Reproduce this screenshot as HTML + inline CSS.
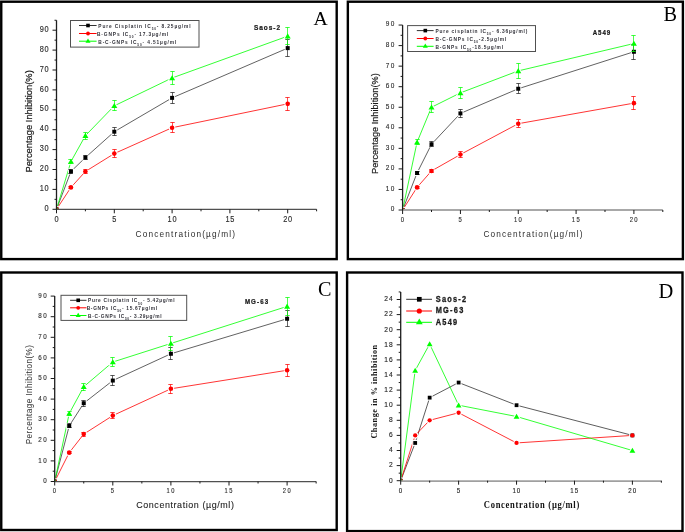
<!DOCTYPE html>
<html><head><meta charset="utf-8"><title>Figure</title><style>html,body{margin:0;padding:0;background:#fff;}svg{display:block;will-change:transform;}</style></head><body>
<svg width="685" height="532" viewBox="0 0 685 532">
<rect width="685" height="532" fill="#fff"/>
<rect x="1.25" y="1.7" width="335.45" height="257.40000000000003" fill="none" stroke="#000" stroke-width="2.4"/>
<rect x="347.85" y="1.7" width="335.04999999999995" height="257.40000000000003" fill="none" stroke="#000" stroke-width="2.4"/>
<rect x="1.25" y="272.5" width="335.45" height="257.5" fill="none" stroke="#000" stroke-width="2.4"/>
<rect x="347.1" y="272.5" width="335.4" height="258.6" fill="none" stroke="#000" stroke-width="2.4"/>
<clipPath id="ca"><rect x="56.50" y="9.30" width="280" height="200"/></clipPath>
<g clip-path="url(#ca)">
<polyline points="56.50,209.30 70.95,171.49 85.40,157.56 114.30,131.69 172.10,97.86 287.70,48.11" fill="none" stroke="#3a3a3a" stroke-width="0.8"/>
<polyline points="56.50,209.30 70.95,187.41 85.40,171.49 114.30,153.58 172.10,127.71 287.70,103.83" fill="none" stroke="#ff0000" stroke-width="0.8"/>
<polyline points="56.50,209.30 70.95,161.54 85.40,135.67 114.30,105.82 172.10,77.96 287.70,36.17" fill="none" stroke="#00ff00" stroke-width="0.8"/>
<rect x="54.50" y="207.30" width="4" height="4" fill="#fff" stroke="#fff" stroke-width="2.0"/>
<rect x="68.95" y="169.49" width="4" height="4" fill="#fff" stroke="#fff" stroke-width="2.0"/>
<rect x="83.40" y="155.56" width="4" height="4" fill="#fff" stroke="#fff" stroke-width="2.0"/>
<rect x="112.30" y="129.69" width="4" height="4" fill="#fff" stroke="#fff" stroke-width="2.0"/>
<rect x="170.10" y="95.86" width="4" height="4" fill="#fff" stroke="#fff" stroke-width="2.0"/>
<rect x="285.70" y="46.11" width="4" height="4" fill="#fff" stroke="#fff" stroke-width="2.0"/>
<ellipse cx="56.50" cy="209.30" rx="2.30" ry="2.30" fill="#fff" stroke="#fff" stroke-width="2.0"/>
<ellipse cx="70.95" cy="187.41" rx="2.30" ry="2.30" fill="#fff" stroke="#fff" stroke-width="2.0"/>
<ellipse cx="85.40" cy="171.49" rx="2.30" ry="2.30" fill="#fff" stroke="#fff" stroke-width="2.0"/>
<ellipse cx="114.30" cy="153.58" rx="2.30" ry="2.30" fill="#fff" stroke="#fff" stroke-width="2.0"/>
<ellipse cx="172.10" cy="127.71" rx="2.30" ry="2.30" fill="#fff" stroke="#fff" stroke-width="2.0"/>
<ellipse cx="287.70" cy="103.83" rx="2.30" ry="2.30" fill="#fff" stroke="#fff" stroke-width="2.0"/>
<polygon points="56.50,206.50 53.50,211.59 59.50,211.59" fill="#fff" stroke="#fff" stroke-width="2.0"/>
<polygon points="70.95,158.74 67.95,163.84 73.95,163.84" fill="#fff" stroke="#fff" stroke-width="2.0"/>
<polygon points="85.40,132.87 82.40,137.97 88.40,137.97" fill="#fff" stroke="#fff" stroke-width="2.0"/>
<polygon points="114.30,103.02 111.30,108.12 117.30,108.12" fill="#fff" stroke="#fff" stroke-width="2.0"/>
<polygon points="172.10,75.16 169.10,80.26 175.10,80.26" fill="#fff" stroke="#fff" stroke-width="2.0"/>
<polygon points="287.70,33.37 284.70,38.47 290.70,38.47" fill="#fff" stroke="#fff" stroke-width="2.0"/>
<line x1="70.50" y1="173.50" x2="70.50" y2="169.50" stroke="#222" stroke-width="0.7" />
<line x1="68.30" y1="173.50" x2="72.70" y2="173.50" stroke="#222" stroke-width="0.75" />
<line x1="68.30" y1="169.50" x2="72.70" y2="169.50" stroke="#222" stroke-width="0.75" />
<line x1="85.50" y1="159.50" x2="85.50" y2="155.50" stroke="#222" stroke-width="0.7" />
<line x1="83.30" y1="159.50" x2="87.70" y2="159.50" stroke="#222" stroke-width="0.75" />
<line x1="83.30" y1="155.50" x2="87.70" y2="155.50" stroke="#222" stroke-width="0.75" />
<line x1="114.50" y1="135.50" x2="114.50" y2="127.50" stroke="#222" stroke-width="0.7" />
<line x1="112.30" y1="135.50" x2="116.70" y2="135.50" stroke="#222" stroke-width="0.75" />
<line x1="112.30" y1="127.50" x2="116.70" y2="127.50" stroke="#222" stroke-width="0.75" />
<line x1="172.50" y1="103.50" x2="172.50" y2="92.50" stroke="#222" stroke-width="0.7" />
<line x1="170.30" y1="103.50" x2="174.70" y2="103.50" stroke="#222" stroke-width="0.75" />
<line x1="170.30" y1="92.50" x2="174.70" y2="92.50" stroke="#222" stroke-width="0.75" />
<line x1="287.50" y1="56.50" x2="287.50" y2="39.50" stroke="#222" stroke-width="0.7" />
<line x1="285.30" y1="56.50" x2="289.70" y2="56.50" stroke="#222" stroke-width="0.75" />
<line x1="285.30" y1="39.50" x2="289.70" y2="39.50" stroke="#222" stroke-width="0.75" />
<rect x="54.50" y="207.30" width="4" height="4" fill="#000000"/>
<rect x="68.95" y="169.49" width="4" height="4" fill="#000000"/>
<rect x="83.40" y="155.56" width="4" height="4" fill="#000000"/>
<rect x="112.30" y="129.69" width="4" height="4" fill="#000000"/>
<rect x="170.10" y="95.86" width="4" height="4" fill="#000000"/>
<rect x="285.70" y="46.11" width="4" height="4" fill="#000000"/>
<line x1="70.50" y1="188.50" x2="70.50" y2="186.50" stroke="#ff0000" stroke-width="0.7" />
<line x1="68.30" y1="188.50" x2="72.70" y2="188.50" stroke="#ff0000" stroke-width="0.75" />
<line x1="68.30" y1="186.50" x2="72.70" y2="186.50" stroke="#ff0000" stroke-width="0.75" />
<line x1="85.50" y1="173.50" x2="85.50" y2="169.50" stroke="#ff0000" stroke-width="0.7" />
<line x1="83.30" y1="173.50" x2="87.70" y2="173.50" stroke="#ff0000" stroke-width="0.75" />
<line x1="83.30" y1="169.50" x2="87.70" y2="169.50" stroke="#ff0000" stroke-width="0.75" />
<line x1="114.50" y1="157.50" x2="114.50" y2="149.50" stroke="#ff0000" stroke-width="0.7" />
<line x1="112.30" y1="157.50" x2="116.70" y2="157.50" stroke="#ff0000" stroke-width="0.75" />
<line x1="112.30" y1="149.50" x2="116.70" y2="149.50" stroke="#ff0000" stroke-width="0.75" />
<line x1="172.50" y1="132.50" x2="172.50" y2="122.50" stroke="#ff0000" stroke-width="0.7" />
<line x1="170.30" y1="132.50" x2="174.70" y2="132.50" stroke="#ff0000" stroke-width="0.75" />
<line x1="170.30" y1="122.50" x2="174.70" y2="122.50" stroke="#ff0000" stroke-width="0.75" />
<line x1="287.50" y1="110.50" x2="287.50" y2="97.50" stroke="#ff0000" stroke-width="0.7" />
<line x1="285.30" y1="110.50" x2="289.70" y2="110.50" stroke="#ff0000" stroke-width="0.75" />
<line x1="285.30" y1="97.50" x2="289.70" y2="97.50" stroke="#ff0000" stroke-width="0.75" />
<ellipse cx="56.50" cy="209.30" rx="2.30" ry="2.30" fill="#ff0000"/>
<ellipse cx="70.95" cy="187.41" rx="2.30" ry="2.30" fill="#ff0000"/>
<ellipse cx="85.40" cy="171.49" rx="2.30" ry="2.30" fill="#ff0000"/>
<ellipse cx="114.30" cy="153.58" rx="2.30" ry="2.30" fill="#ff0000"/>
<ellipse cx="172.10" cy="127.71" rx="2.30" ry="2.30" fill="#ff0000"/>
<ellipse cx="287.70" cy="103.83" rx="2.30" ry="2.30" fill="#ff0000"/>
<line x1="70.50" y1="163.50" x2="70.50" y2="159.50" stroke="#00ff00" stroke-width="0.7" />
<line x1="68.30" y1="163.50" x2="72.70" y2="163.50" stroke="#00ff00" stroke-width="0.75" />
<line x1="68.30" y1="159.50" x2="72.70" y2="159.50" stroke="#00ff00" stroke-width="0.75" />
<line x1="85.50" y1="139.50" x2="85.50" y2="132.50" stroke="#00ff00" stroke-width="0.7" />
<line x1="83.30" y1="139.50" x2="87.70" y2="139.50" stroke="#00ff00" stroke-width="0.75" />
<line x1="83.30" y1="132.50" x2="87.70" y2="132.50" stroke="#00ff00" stroke-width="0.75" />
<line x1="114.50" y1="110.50" x2="114.50" y2="100.50" stroke="#00ff00" stroke-width="0.7" />
<line x1="112.30" y1="110.50" x2="116.70" y2="110.50" stroke="#00ff00" stroke-width="0.75" />
<line x1="112.30" y1="100.50" x2="116.70" y2="100.50" stroke="#00ff00" stroke-width="0.75" />
<line x1="172.50" y1="84.50" x2="172.50" y2="71.50" stroke="#00ff00" stroke-width="0.7" />
<line x1="170.30" y1="84.50" x2="174.70" y2="84.50" stroke="#00ff00" stroke-width="0.75" />
<line x1="170.30" y1="71.50" x2="174.70" y2="71.50" stroke="#00ff00" stroke-width="0.75" />
<line x1="287.50" y1="44.50" x2="287.50" y2="27.50" stroke="#00ff00" stroke-width="0.7" />
<line x1="285.30" y1="44.50" x2="289.70" y2="44.50" stroke="#00ff00" stroke-width="0.75" />
<line x1="285.30" y1="27.50" x2="289.70" y2="27.50" stroke="#00ff00" stroke-width="0.75" />
<polygon points="56.50,206.50 53.50,211.59 59.50,211.59" fill="#00ff00"/>
<polygon points="70.95,158.74 67.95,163.84 73.95,163.84" fill="#00ff00"/>
<polygon points="85.40,132.87 82.40,137.97 88.40,137.97" fill="#00ff00"/>
<polygon points="114.30,103.02 111.30,108.12 117.30,108.12" fill="#00ff00"/>
<polygon points="172.10,75.16 169.10,80.26 175.10,80.26" fill="#00ff00"/>
<polygon points="287.70,33.37 284.70,38.47 290.70,38.47" fill="#00ff00"/>
</g>
<line x1="56.50" y1="209.30" x2="316.60" y2="209.30" stroke="#505050" stroke-width="1.25" />
<line x1="56.50" y1="209.30" x2="56.50" y2="20.25" stroke="#1e1e1e" stroke-width="1.3" />
<line x1="52.50" y1="209.30" x2="56.50" y2="209.30" stroke="#1a1a1a" stroke-width="1.0" />
<text transform="translate(49.40,210.90) scale(0.9,1)" font-family="Liberation Sans" font-size="8.2" font-weight="normal" text-anchor="end" fill="#2e2e2e" letter-spacing="0.8" stroke="#2e2e2e" stroke-width="0.15" >0</text>
<line x1="54.50" y1="199.35" x2="56.50" y2="199.35" stroke="#1a1a1a" stroke-width="1.0" />
<line x1="52.50" y1="189.40" x2="56.50" y2="189.40" stroke="#1a1a1a" stroke-width="1.0" />
<text transform="translate(49.40,191.00) scale(0.9,1)" font-family="Liberation Sans" font-size="8.2" font-weight="normal" text-anchor="end" fill="#2e2e2e" letter-spacing="0.8" stroke="#2e2e2e" stroke-width="0.15" >10</text>
<line x1="54.50" y1="179.45" x2="56.50" y2="179.45" stroke="#1a1a1a" stroke-width="1.0" />
<line x1="52.50" y1="169.50" x2="56.50" y2="169.50" stroke="#1a1a1a" stroke-width="1.0" />
<text transform="translate(49.40,171.10) scale(0.9,1)" font-family="Liberation Sans" font-size="8.2" font-weight="normal" text-anchor="end" fill="#2e2e2e" letter-spacing="0.8" stroke="#2e2e2e" stroke-width="0.15" >20</text>
<line x1="54.50" y1="159.55" x2="56.50" y2="159.55" stroke="#1a1a1a" stroke-width="1.0" />
<line x1="52.50" y1="149.60" x2="56.50" y2="149.60" stroke="#1a1a1a" stroke-width="1.0" />
<text transform="translate(49.40,151.20) scale(0.9,1)" font-family="Liberation Sans" font-size="8.2" font-weight="normal" text-anchor="end" fill="#2e2e2e" letter-spacing="0.8" stroke="#2e2e2e" stroke-width="0.15" >30</text>
<line x1="54.50" y1="139.65" x2="56.50" y2="139.65" stroke="#1a1a1a" stroke-width="1.0" />
<line x1="52.50" y1="129.70" x2="56.50" y2="129.70" stroke="#1a1a1a" stroke-width="1.0" />
<text transform="translate(49.40,131.30) scale(0.9,1)" font-family="Liberation Sans" font-size="8.2" font-weight="normal" text-anchor="end" fill="#2e2e2e" letter-spacing="0.8" stroke="#2e2e2e" stroke-width="0.15" >40</text>
<line x1="54.50" y1="119.75" x2="56.50" y2="119.75" stroke="#1a1a1a" stroke-width="1.0" />
<line x1="52.50" y1="109.80" x2="56.50" y2="109.80" stroke="#1a1a1a" stroke-width="1.0" />
<text transform="translate(49.40,111.40) scale(0.9,1)" font-family="Liberation Sans" font-size="8.2" font-weight="normal" text-anchor="end" fill="#2e2e2e" letter-spacing="0.8" stroke="#2e2e2e" stroke-width="0.15" >50</text>
<line x1="54.50" y1="99.85" x2="56.50" y2="99.85" stroke="#1a1a1a" stroke-width="1.0" />
<line x1="52.50" y1="89.90" x2="56.50" y2="89.90" stroke="#1a1a1a" stroke-width="1.0" />
<text transform="translate(49.40,91.50) scale(0.9,1)" font-family="Liberation Sans" font-size="8.2" font-weight="normal" text-anchor="end" fill="#2e2e2e" letter-spacing="0.8" stroke="#2e2e2e" stroke-width="0.15" >60</text>
<line x1="54.50" y1="79.95" x2="56.50" y2="79.95" stroke="#1a1a1a" stroke-width="1.0" />
<line x1="52.50" y1="70.00" x2="56.50" y2="70.00" stroke="#1a1a1a" stroke-width="1.0" />
<text transform="translate(49.40,71.60) scale(0.9,1)" font-family="Liberation Sans" font-size="8.2" font-weight="normal" text-anchor="end" fill="#2e2e2e" letter-spacing="0.8" stroke="#2e2e2e" stroke-width="0.15" >70</text>
<line x1="54.50" y1="60.05" x2="56.50" y2="60.05" stroke="#1a1a1a" stroke-width="1.0" />
<line x1="52.50" y1="50.10" x2="56.50" y2="50.10" stroke="#1a1a1a" stroke-width="1.0" />
<text transform="translate(49.40,51.70) scale(0.9,1)" font-family="Liberation Sans" font-size="8.2" font-weight="normal" text-anchor="end" fill="#2e2e2e" letter-spacing="0.8" stroke="#2e2e2e" stroke-width="0.15" >80</text>
<line x1="54.50" y1="40.15" x2="56.50" y2="40.15" stroke="#1a1a1a" stroke-width="1.0" />
<line x1="52.50" y1="30.20" x2="56.50" y2="30.20" stroke="#1a1a1a" stroke-width="1.0" />
<text transform="translate(49.40,31.80) scale(0.9,1)" font-family="Liberation Sans" font-size="8.2" font-weight="normal" text-anchor="end" fill="#2e2e2e" letter-spacing="0.8" stroke="#2e2e2e" stroke-width="0.15" >90</text>
<line x1="54.50" y1="20.25" x2="56.50" y2="20.25" stroke="#1a1a1a" stroke-width="1.0" />
<line x1="56.50" y1="209.30" x2="56.50" y2="213.30" stroke="#1a1a1a" stroke-width="1.0" />
<text transform="translate(56.80,221.70) scale(0.9,1)" font-family="Liberation Sans" font-size="8.2" font-weight="normal" text-anchor="middle" fill="#2e2e2e" letter-spacing="0.8" stroke="#2e2e2e" stroke-width="0.15" >0</text>
<line x1="85.40" y1="209.30" x2="85.40" y2="211.30" stroke="#1a1a1a" stroke-width="1.0" />
<line x1="114.30" y1="209.30" x2="114.30" y2="213.30" stroke="#1a1a1a" stroke-width="1.0" />
<text transform="translate(114.60,221.70) scale(0.9,1)" font-family="Liberation Sans" font-size="8.2" font-weight="normal" text-anchor="middle" fill="#2e2e2e" letter-spacing="0.8" stroke="#2e2e2e" stroke-width="0.15" >5</text>
<line x1="143.20" y1="209.30" x2="143.20" y2="211.30" stroke="#1a1a1a" stroke-width="1.0" />
<line x1="172.10" y1="209.30" x2="172.10" y2="213.30" stroke="#1a1a1a" stroke-width="1.0" />
<text transform="translate(172.40,221.70) scale(0.9,1)" font-family="Liberation Sans" font-size="8.2" font-weight="normal" text-anchor="middle" fill="#2e2e2e" letter-spacing="0.8" stroke="#2e2e2e" stroke-width="0.15" >10</text>
<line x1="201.00" y1="209.30" x2="201.00" y2="211.30" stroke="#1a1a1a" stroke-width="1.0" />
<line x1="229.90" y1="209.30" x2="229.90" y2="213.30" stroke="#1a1a1a" stroke-width="1.0" />
<text transform="translate(230.20,221.70) scale(0.9,1)" font-family="Liberation Sans" font-size="8.2" font-weight="normal" text-anchor="middle" fill="#2e2e2e" letter-spacing="0.8" stroke="#2e2e2e" stroke-width="0.15" >15</text>
<line x1="258.80" y1="209.30" x2="258.80" y2="211.30" stroke="#1a1a1a" stroke-width="1.0" />
<line x1="287.70" y1="209.30" x2="287.70" y2="213.30" stroke="#1a1a1a" stroke-width="1.0" />
<text transform="translate(288.00,221.70) scale(0.9,1)" font-family="Liberation Sans" font-size="8.2" font-weight="normal" text-anchor="middle" fill="#2e2e2e" letter-spacing="0.8" stroke="#2e2e2e" stroke-width="0.15" >20</text>
<line x1="316.60" y1="209.30" x2="316.60" y2="211.30" stroke="#1a1a1a" stroke-width="1.0" />
<clipPath id="cb"><rect x="402.60" y="10.00" width="280" height="200"/></clipPath>
<g clip-path="url(#cb)">
<polyline points="402.60,210.00 417.06,173.01 431.51,144.24 460.43,113.41 518.25,88.75 633.90,51.76" fill="none" stroke="#3a3a3a" stroke-width="0.8"/>
<polyline points="402.60,210.00 417.06,187.40 431.51,170.95 460.43,154.51 518.25,123.69 633.90,103.14" fill="none" stroke="#ff0000" stroke-width="0.8"/>
<polyline points="402.60,210.00 417.06,142.19 431.51,107.25 460.43,92.86 518.25,70.88 633.90,43.54" fill="none" stroke="#00ff00" stroke-width="0.8"/>
<rect x="400.60" y="208.00" width="4" height="4" fill="#fff" stroke="#fff" stroke-width="2.0"/>
<rect x="415.06" y="171.01" width="4" height="4" fill="#fff" stroke="#fff" stroke-width="2.0"/>
<rect x="429.51" y="142.24" width="4" height="4" fill="#fff" stroke="#fff" stroke-width="2.0"/>
<rect x="458.43" y="111.41" width="4" height="4" fill="#fff" stroke="#fff" stroke-width="2.0"/>
<rect x="516.25" y="86.75" width="4" height="4" fill="#fff" stroke="#fff" stroke-width="2.0"/>
<rect x="631.90" y="49.76" width="4" height="4" fill="#fff" stroke="#fff" stroke-width="2.0"/>
<ellipse cx="402.60" cy="210.00" rx="2.30" ry="2.30" fill="#fff" stroke="#fff" stroke-width="2.0"/>
<ellipse cx="417.06" cy="187.40" rx="2.30" ry="2.30" fill="#fff" stroke="#fff" stroke-width="2.0"/>
<ellipse cx="431.51" cy="170.95" rx="2.30" ry="2.30" fill="#fff" stroke="#fff" stroke-width="2.0"/>
<ellipse cx="460.43" cy="154.51" rx="2.30" ry="2.30" fill="#fff" stroke="#fff" stroke-width="2.0"/>
<ellipse cx="518.25" cy="123.69" rx="2.30" ry="2.30" fill="#fff" stroke="#fff" stroke-width="2.0"/>
<ellipse cx="633.90" cy="103.14" rx="2.30" ry="2.30" fill="#fff" stroke="#fff" stroke-width="2.0"/>
<polygon points="402.60,207.19 399.60,212.29 405.60,212.29" fill="#fff" stroke="#fff" stroke-width="2.0"/>
<polygon points="417.06,139.38 414.06,144.48 420.06,144.48" fill="#fff" stroke="#fff" stroke-width="2.0"/>
<polygon points="431.51,104.44 428.51,109.54 434.51,109.54" fill="#fff" stroke="#fff" stroke-width="2.0"/>
<polygon points="460.43,90.06 457.43,95.16 463.43,95.16" fill="#fff" stroke="#fff" stroke-width="2.0"/>
<polygon points="518.25,68.07 515.25,73.17 521.25,73.17" fill="#fff" stroke="#fff" stroke-width="2.0"/>
<polygon points="633.90,40.74 630.90,45.84 636.90,45.84" fill="#fff" stroke="#fff" stroke-width="2.0"/>
<line x1="417.50" y1="174.50" x2="417.50" y2="171.50" stroke="#222" stroke-width="0.7" />
<line x1="415.30" y1="174.50" x2="419.70" y2="174.50" stroke="#222" stroke-width="0.75" />
<line x1="415.30" y1="171.50" x2="419.70" y2="171.50" stroke="#222" stroke-width="0.75" />
<line x1="431.50" y1="146.50" x2="431.50" y2="141.50" stroke="#222" stroke-width="0.7" />
<line x1="429.30" y1="146.50" x2="433.70" y2="146.50" stroke="#222" stroke-width="0.75" />
<line x1="429.30" y1="141.50" x2="433.70" y2="141.50" stroke="#222" stroke-width="0.75" />
<line x1="460.50" y1="117.50" x2="460.50" y2="109.50" stroke="#222" stroke-width="0.7" />
<line x1="458.30" y1="117.50" x2="462.70" y2="117.50" stroke="#222" stroke-width="0.75" />
<line x1="458.30" y1="109.50" x2="462.70" y2="109.50" stroke="#222" stroke-width="0.75" />
<line x1="518.50" y1="93.50" x2="518.50" y2="83.50" stroke="#222" stroke-width="0.7" />
<line x1="516.30" y1="93.50" x2="520.70" y2="93.50" stroke="#222" stroke-width="0.75" />
<line x1="516.30" y1="83.50" x2="520.70" y2="83.50" stroke="#222" stroke-width="0.75" />
<line x1="633.50" y1="59.50" x2="633.50" y2="44.50" stroke="#222" stroke-width="0.7" />
<line x1="631.30" y1="59.50" x2="635.70" y2="59.50" stroke="#222" stroke-width="0.75" />
<line x1="631.30" y1="44.50" x2="635.70" y2="44.50" stroke="#222" stroke-width="0.75" />
<rect x="400.60" y="208.00" width="4" height="4" fill="#000000"/>
<rect x="415.06" y="171.01" width="4" height="4" fill="#000000"/>
<rect x="429.51" y="142.24" width="4" height="4" fill="#000000"/>
<rect x="458.43" y="111.41" width="4" height="4" fill="#000000"/>
<rect x="516.25" y="86.75" width="4" height="4" fill="#000000"/>
<rect x="631.90" y="49.76" width="4" height="4" fill="#000000"/>
<line x1="417.50" y1="188.50" x2="417.50" y2="186.50" stroke="#ff0000" stroke-width="0.7" />
<line x1="415.30" y1="188.50" x2="419.70" y2="188.50" stroke="#ff0000" stroke-width="0.75" />
<line x1="415.30" y1="186.50" x2="419.70" y2="186.50" stroke="#ff0000" stroke-width="0.75" />
<line x1="431.50" y1="172.50" x2="431.50" y2="169.50" stroke="#ff0000" stroke-width="0.7" />
<line x1="429.30" y1="172.50" x2="433.70" y2="172.50" stroke="#ff0000" stroke-width="0.75" />
<line x1="429.30" y1="169.50" x2="433.70" y2="169.50" stroke="#ff0000" stroke-width="0.75" />
<line x1="460.50" y1="157.50" x2="460.50" y2="151.50" stroke="#ff0000" stroke-width="0.7" />
<line x1="458.30" y1="157.50" x2="462.70" y2="157.50" stroke="#ff0000" stroke-width="0.75" />
<line x1="458.30" y1="151.50" x2="462.70" y2="151.50" stroke="#ff0000" stroke-width="0.75" />
<line x1="518.50" y1="127.50" x2="518.50" y2="119.50" stroke="#ff0000" stroke-width="0.7" />
<line x1="516.30" y1="127.50" x2="520.70" y2="127.50" stroke="#ff0000" stroke-width="0.75" />
<line x1="516.30" y1="119.50" x2="520.70" y2="119.50" stroke="#ff0000" stroke-width="0.75" />
<line x1="633.50" y1="109.50" x2="633.50" y2="96.50" stroke="#ff0000" stroke-width="0.7" />
<line x1="631.30" y1="109.50" x2="635.70" y2="109.50" stroke="#ff0000" stroke-width="0.75" />
<line x1="631.30" y1="96.50" x2="635.70" y2="96.50" stroke="#ff0000" stroke-width="0.75" />
<ellipse cx="402.60" cy="210.00" rx="2.30" ry="2.30" fill="#ff0000"/>
<ellipse cx="417.06" cy="187.40" rx="2.30" ry="2.30" fill="#ff0000"/>
<ellipse cx="431.51" cy="170.95" rx="2.30" ry="2.30" fill="#ff0000"/>
<ellipse cx="460.43" cy="154.51" rx="2.30" ry="2.30" fill="#ff0000"/>
<ellipse cx="518.25" cy="123.69" rx="2.30" ry="2.30" fill="#ff0000"/>
<ellipse cx="633.90" cy="103.14" rx="2.30" ry="2.30" fill="#ff0000"/>
<line x1="417.50" y1="144.50" x2="417.50" y2="139.50" stroke="#00ff00" stroke-width="0.7" />
<line x1="415.30" y1="144.50" x2="419.70" y2="144.50" stroke="#00ff00" stroke-width="0.75" />
<line x1="415.30" y1="139.50" x2="419.70" y2="139.50" stroke="#00ff00" stroke-width="0.75" />
<line x1="431.50" y1="112.50" x2="431.50" y2="101.50" stroke="#00ff00" stroke-width="0.7" />
<line x1="429.30" y1="112.50" x2="433.70" y2="112.50" stroke="#00ff00" stroke-width="0.75" />
<line x1="429.30" y1="101.50" x2="433.70" y2="101.50" stroke="#00ff00" stroke-width="0.75" />
<line x1="460.50" y1="98.50" x2="460.50" y2="87.50" stroke="#00ff00" stroke-width="0.7" />
<line x1="458.30" y1="98.50" x2="462.70" y2="98.50" stroke="#00ff00" stroke-width="0.75" />
<line x1="458.30" y1="87.50" x2="462.70" y2="87.50" stroke="#00ff00" stroke-width="0.75" />
<line x1="518.50" y1="78.50" x2="518.50" y2="63.50" stroke="#00ff00" stroke-width="0.7" />
<line x1="516.30" y1="78.50" x2="520.70" y2="78.50" stroke="#00ff00" stroke-width="0.75" />
<line x1="516.30" y1="63.50" x2="520.70" y2="63.50" stroke="#00ff00" stroke-width="0.75" />
<line x1="633.50" y1="51.50" x2="633.50" y2="35.50" stroke="#00ff00" stroke-width="0.7" />
<line x1="631.30" y1="51.50" x2="635.70" y2="51.50" stroke="#00ff00" stroke-width="0.75" />
<line x1="631.30" y1="35.50" x2="635.70" y2="35.50" stroke="#00ff00" stroke-width="0.75" />
<polygon points="402.60,207.19 399.60,212.29 405.60,212.29" fill="#00ff00"/>
<polygon points="417.06,139.38 414.06,144.48 420.06,144.48" fill="#00ff00"/>
<polygon points="431.51,104.44 428.51,109.54 434.51,109.54" fill="#00ff00"/>
<polygon points="460.43,90.06 457.43,95.16 463.43,95.16" fill="#00ff00"/>
<polygon points="518.25,68.07 515.25,73.17 521.25,73.17" fill="#00ff00"/>
<polygon points="633.90,40.74 630.90,45.84 636.90,45.84" fill="#00ff00"/>
</g>
<line x1="402.60" y1="210.00" x2="662.81" y2="210.00" stroke="#a8a8a8" stroke-width="2.0" />
<line x1="402.60" y1="210.00" x2="402.60" y2="25.05" stroke="#1e1e1e" stroke-width="1.3" />
<line x1="398.60" y1="210.00" x2="402.60" y2="210.00" stroke="#1a1a1a" stroke-width="1.0" />
<text transform="translate(395.50,211.40) scale(0.82,1)" font-family="Liberation Sans" font-size="7.9" font-weight="normal" text-anchor="end" fill="#2e2e2e" letter-spacing="1.5" stroke="#2e2e2e" stroke-width="0.15" >0</text>
<line x1="400.60" y1="199.72" x2="402.60" y2="199.72" stroke="#1a1a1a" stroke-width="1.0" />
<line x1="398.60" y1="189.45" x2="402.60" y2="189.45" stroke="#1a1a1a" stroke-width="1.0" />
<text transform="translate(395.50,190.85) scale(0.82,1)" font-family="Liberation Sans" font-size="7.9" font-weight="normal" text-anchor="end" fill="#2e2e2e" letter-spacing="1.5" stroke="#2e2e2e" stroke-width="0.15" >10</text>
<line x1="400.60" y1="179.18" x2="402.60" y2="179.18" stroke="#1a1a1a" stroke-width="1.0" />
<line x1="398.60" y1="168.90" x2="402.60" y2="168.90" stroke="#1a1a1a" stroke-width="1.0" />
<text transform="translate(395.50,170.30) scale(0.82,1)" font-family="Liberation Sans" font-size="7.9" font-weight="normal" text-anchor="end" fill="#2e2e2e" letter-spacing="1.5" stroke="#2e2e2e" stroke-width="0.15" >20</text>
<line x1="400.60" y1="158.62" x2="402.60" y2="158.62" stroke="#1a1a1a" stroke-width="1.0" />
<line x1="398.60" y1="148.35" x2="402.60" y2="148.35" stroke="#1a1a1a" stroke-width="1.0" />
<text transform="translate(395.50,149.75) scale(0.82,1)" font-family="Liberation Sans" font-size="7.9" font-weight="normal" text-anchor="end" fill="#2e2e2e" letter-spacing="1.5" stroke="#2e2e2e" stroke-width="0.15" >30</text>
<line x1="400.60" y1="138.07" x2="402.60" y2="138.07" stroke="#1a1a1a" stroke-width="1.0" />
<line x1="398.60" y1="127.80" x2="402.60" y2="127.80" stroke="#1a1a1a" stroke-width="1.0" />
<text transform="translate(395.50,129.20) scale(0.82,1)" font-family="Liberation Sans" font-size="7.9" font-weight="normal" text-anchor="end" fill="#2e2e2e" letter-spacing="1.5" stroke="#2e2e2e" stroke-width="0.15" >40</text>
<line x1="400.60" y1="117.52" x2="402.60" y2="117.52" stroke="#1a1a1a" stroke-width="1.0" />
<line x1="398.60" y1="107.25" x2="402.60" y2="107.25" stroke="#1a1a1a" stroke-width="1.0" />
<text transform="translate(395.50,108.65) scale(0.82,1)" font-family="Liberation Sans" font-size="7.9" font-weight="normal" text-anchor="end" fill="#2e2e2e" letter-spacing="1.5" stroke="#2e2e2e" stroke-width="0.15" >50</text>
<line x1="400.60" y1="96.97" x2="402.60" y2="96.97" stroke="#1a1a1a" stroke-width="1.0" />
<line x1="398.60" y1="86.70" x2="402.60" y2="86.70" stroke="#1a1a1a" stroke-width="1.0" />
<text transform="translate(395.50,88.10) scale(0.82,1)" font-family="Liberation Sans" font-size="7.9" font-weight="normal" text-anchor="end" fill="#2e2e2e" letter-spacing="1.5" stroke="#2e2e2e" stroke-width="0.15" >60</text>
<line x1="400.60" y1="76.42" x2="402.60" y2="76.42" stroke="#1a1a1a" stroke-width="1.0" />
<line x1="398.60" y1="66.15" x2="402.60" y2="66.15" stroke="#1a1a1a" stroke-width="1.0" />
<text transform="translate(395.50,67.55) scale(0.82,1)" font-family="Liberation Sans" font-size="7.9" font-weight="normal" text-anchor="end" fill="#2e2e2e" letter-spacing="1.5" stroke="#2e2e2e" stroke-width="0.15" >70</text>
<line x1="400.60" y1="55.88" x2="402.60" y2="55.88" stroke="#1a1a1a" stroke-width="1.0" />
<line x1="398.60" y1="45.60" x2="402.60" y2="45.60" stroke="#1a1a1a" stroke-width="1.0" />
<text transform="translate(395.50,47.00) scale(0.82,1)" font-family="Liberation Sans" font-size="7.9" font-weight="normal" text-anchor="end" fill="#2e2e2e" letter-spacing="1.5" stroke="#2e2e2e" stroke-width="0.15" >80</text>
<line x1="400.60" y1="35.32" x2="402.60" y2="35.32" stroke="#1a1a1a" stroke-width="1.0" />
<line x1="398.60" y1="25.05" x2="402.60" y2="25.05" stroke="#1a1a1a" stroke-width="1.0" />
<text transform="translate(395.50,26.45) scale(0.82,1)" font-family="Liberation Sans" font-size="7.9" font-weight="normal" text-anchor="end" fill="#2e2e2e" letter-spacing="1.5" stroke="#2e2e2e" stroke-width="0.15" >90</text>
<line x1="402.60" y1="210.00" x2="402.60" y2="214.00" stroke="#1a1a1a" stroke-width="1.0" />
<text transform="translate(402.90,221.80) scale(0.82,1)" font-family="Liberation Sans" font-size="7.2" font-weight="normal" text-anchor="middle" fill="#2e2e2e" letter-spacing="1.5" stroke="#2e2e2e" stroke-width="0.15" >0</text>
<line x1="431.51" y1="210.00" x2="431.51" y2="212.00" stroke="#1a1a1a" stroke-width="1.0" />
<line x1="460.43" y1="210.00" x2="460.43" y2="214.00" stroke="#1a1a1a" stroke-width="1.0" />
<text transform="translate(460.73,221.80) scale(0.82,1)" font-family="Liberation Sans" font-size="7.2" font-weight="normal" text-anchor="middle" fill="#2e2e2e" letter-spacing="1.5" stroke="#2e2e2e" stroke-width="0.15" >5</text>
<line x1="489.34" y1="210.00" x2="489.34" y2="212.00" stroke="#1a1a1a" stroke-width="1.0" />
<line x1="518.25" y1="210.00" x2="518.25" y2="214.00" stroke="#1a1a1a" stroke-width="1.0" />
<text transform="translate(518.55,221.80) scale(0.82,1)" font-family="Liberation Sans" font-size="7.2" font-weight="normal" text-anchor="middle" fill="#2e2e2e" letter-spacing="1.5" stroke="#2e2e2e" stroke-width="0.15" >10</text>
<line x1="547.16" y1="210.00" x2="547.16" y2="212.00" stroke="#1a1a1a" stroke-width="1.0" />
<line x1="576.08" y1="210.00" x2="576.08" y2="214.00" stroke="#1a1a1a" stroke-width="1.0" />
<text transform="translate(576.38,221.80) scale(0.82,1)" font-family="Liberation Sans" font-size="7.2" font-weight="normal" text-anchor="middle" fill="#2e2e2e" letter-spacing="1.5" stroke="#2e2e2e" stroke-width="0.15" >15</text>
<line x1="604.99" y1="210.00" x2="604.99" y2="212.00" stroke="#1a1a1a" stroke-width="1.0" />
<line x1="633.90" y1="210.00" x2="633.90" y2="214.00" stroke="#1a1a1a" stroke-width="1.0" />
<text transform="translate(634.20,221.80) scale(0.82,1)" font-family="Liberation Sans" font-size="7.2" font-weight="normal" text-anchor="middle" fill="#2e2e2e" letter-spacing="1.5" stroke="#2e2e2e" stroke-width="0.15" >20</text>
<line x1="662.81" y1="210.00" x2="662.81" y2="212.00" stroke="#1a1a1a" stroke-width="1.0" />
<clipPath id="cc"><rect x="54.70" y="281.50" width="280" height="200"/></clipPath>
<g clip-path="url(#cc)">
<polyline points="54.70,481.50 69.22,425.88 83.75,403.22 112.80,380.56 170.90,353.78 287.10,318.76" fill="none" stroke="#3a3a3a" stroke-width="0.8"/>
<polyline points="54.70,481.50 69.22,452.66 83.75,434.12 112.80,415.58 170.90,388.80 287.10,370.26" fill="none" stroke="#ff0000" stroke-width="0.8"/>
<polyline points="54.70,481.50 69.22,413.52 83.75,386.74 112.80,362.02 170.90,343.48 287.10,306.40" fill="none" stroke="#00ff00" stroke-width="0.8"/>
<rect x="52.70" y="479.50" width="4" height="4" fill="#fff" stroke="#fff" stroke-width="2.0"/>
<rect x="67.22" y="423.88" width="4" height="4" fill="#fff" stroke="#fff" stroke-width="2.0"/>
<rect x="81.75" y="401.22" width="4" height="4" fill="#fff" stroke="#fff" stroke-width="2.0"/>
<rect x="110.80" y="378.56" width="4" height="4" fill="#fff" stroke="#fff" stroke-width="2.0"/>
<rect x="168.90" y="351.78" width="4" height="4" fill="#fff" stroke="#fff" stroke-width="2.0"/>
<rect x="285.10" y="316.76" width="4" height="4" fill="#fff" stroke="#fff" stroke-width="2.0"/>
<ellipse cx="54.70" cy="481.50" rx="2.30" ry="2.30" fill="#fff" stroke="#fff" stroke-width="2.0"/>
<ellipse cx="69.22" cy="452.66" rx="2.30" ry="2.30" fill="#fff" stroke="#fff" stroke-width="2.0"/>
<ellipse cx="83.75" cy="434.12" rx="2.30" ry="2.30" fill="#fff" stroke="#fff" stroke-width="2.0"/>
<ellipse cx="112.80" cy="415.58" rx="2.30" ry="2.30" fill="#fff" stroke="#fff" stroke-width="2.0"/>
<ellipse cx="170.90" cy="388.80" rx="2.30" ry="2.30" fill="#fff" stroke="#fff" stroke-width="2.0"/>
<ellipse cx="287.10" cy="370.26" rx="2.30" ry="2.30" fill="#fff" stroke="#fff" stroke-width="2.0"/>
<polygon points="54.70,478.69 51.70,483.80 57.70,483.80" fill="#fff" stroke="#fff" stroke-width="2.0"/>
<polygon points="69.22,410.71 66.22,415.81 72.22,415.81" fill="#fff" stroke="#fff" stroke-width="2.0"/>
<polygon points="83.75,383.94 80.75,389.04 86.75,389.04" fill="#fff" stroke="#fff" stroke-width="2.0"/>
<polygon points="112.80,359.21 109.80,364.31 115.80,364.31" fill="#fff" stroke="#fff" stroke-width="2.0"/>
<polygon points="170.90,340.68 167.90,345.78 173.90,345.78" fill="#fff" stroke="#fff" stroke-width="2.0"/>
<polygon points="287.10,303.59 284.10,308.69 290.10,308.69" fill="#fff" stroke="#fff" stroke-width="2.0"/>
<line x1="69.50" y1="427.50" x2="69.50" y2="423.50" stroke="#222" stroke-width="0.7" />
<line x1="67.30" y1="427.50" x2="71.70" y2="427.50" stroke="#222" stroke-width="0.75" />
<line x1="67.30" y1="423.50" x2="71.70" y2="423.50" stroke="#222" stroke-width="0.75" />
<line x1="83.50" y1="406.50" x2="83.50" y2="400.50" stroke="#222" stroke-width="0.7" />
<line x1="81.30" y1="406.50" x2="85.70" y2="406.50" stroke="#222" stroke-width="0.75" />
<line x1="81.30" y1="400.50" x2="85.70" y2="400.50" stroke="#222" stroke-width="0.75" />
<line x1="112.50" y1="385.50" x2="112.50" y2="375.50" stroke="#222" stroke-width="0.7" />
<line x1="110.30" y1="385.50" x2="114.70" y2="385.50" stroke="#222" stroke-width="0.75" />
<line x1="110.30" y1="375.50" x2="114.70" y2="375.50" stroke="#222" stroke-width="0.75" />
<line x1="170.50" y1="359.50" x2="170.50" y2="347.50" stroke="#222" stroke-width="0.7" />
<line x1="168.30" y1="359.50" x2="172.70" y2="359.50" stroke="#222" stroke-width="0.75" />
<line x1="168.30" y1="347.50" x2="172.70" y2="347.50" stroke="#222" stroke-width="0.75" />
<line x1="287.50" y1="326.50" x2="287.50" y2="310.50" stroke="#222" stroke-width="0.7" />
<line x1="285.30" y1="326.50" x2="289.70" y2="326.50" stroke="#222" stroke-width="0.75" />
<line x1="285.30" y1="310.50" x2="289.70" y2="310.50" stroke="#222" stroke-width="0.75" />
<rect x="52.70" y="479.50" width="4" height="4" fill="#000000"/>
<rect x="67.22" y="423.88" width="4" height="4" fill="#000000"/>
<rect x="81.75" y="401.22" width="4" height="4" fill="#000000"/>
<rect x="110.80" y="378.56" width="4" height="4" fill="#000000"/>
<rect x="168.90" y="351.78" width="4" height="4" fill="#000000"/>
<rect x="285.10" y="316.76" width="4" height="4" fill="#000000"/>
<line x1="69.50" y1="453.50" x2="69.50" y2="451.50" stroke="#ff0000" stroke-width="0.7" />
<line x1="67.30" y1="453.50" x2="71.70" y2="453.50" stroke="#ff0000" stroke-width="0.75" />
<line x1="67.30" y1="451.50" x2="71.70" y2="451.50" stroke="#ff0000" stroke-width="0.75" />
<line x1="83.50" y1="436.50" x2="83.50" y2="432.50" stroke="#ff0000" stroke-width="0.7" />
<line x1="81.30" y1="436.50" x2="85.70" y2="436.50" stroke="#ff0000" stroke-width="0.75" />
<line x1="81.30" y1="432.50" x2="85.70" y2="432.50" stroke="#ff0000" stroke-width="0.75" />
<line x1="112.50" y1="418.50" x2="112.50" y2="412.50" stroke="#ff0000" stroke-width="0.7" />
<line x1="110.30" y1="418.50" x2="114.70" y2="418.50" stroke="#ff0000" stroke-width="0.75" />
<line x1="110.30" y1="412.50" x2="114.70" y2="412.50" stroke="#ff0000" stroke-width="0.75" />
<line x1="170.50" y1="393.50" x2="170.50" y2="384.50" stroke="#ff0000" stroke-width="0.7" />
<line x1="168.30" y1="393.50" x2="172.70" y2="393.50" stroke="#ff0000" stroke-width="0.75" />
<line x1="168.30" y1="384.50" x2="172.70" y2="384.50" stroke="#ff0000" stroke-width="0.75" />
<line x1="287.50" y1="376.50" x2="287.50" y2="364.50" stroke="#ff0000" stroke-width="0.7" />
<line x1="285.30" y1="376.50" x2="289.70" y2="376.50" stroke="#ff0000" stroke-width="0.75" />
<line x1="285.30" y1="364.50" x2="289.70" y2="364.50" stroke="#ff0000" stroke-width="0.75" />
<ellipse cx="54.70" cy="481.50" rx="2.30" ry="2.30" fill="#ff0000"/>
<ellipse cx="69.22" cy="452.66" rx="2.30" ry="2.30" fill="#ff0000"/>
<ellipse cx="83.75" cy="434.12" rx="2.30" ry="2.30" fill="#ff0000"/>
<ellipse cx="112.80" cy="415.58" rx="2.30" ry="2.30" fill="#ff0000"/>
<ellipse cx="170.90" cy="388.80" rx="2.30" ry="2.30" fill="#ff0000"/>
<ellipse cx="287.10" cy="370.26" rx="2.30" ry="2.30" fill="#ff0000"/>
<line x1="69.50" y1="415.50" x2="69.50" y2="411.50" stroke="#00ff00" stroke-width="0.7" />
<line x1="67.30" y1="415.50" x2="71.70" y2="415.50" stroke="#00ff00" stroke-width="0.75" />
<line x1="67.30" y1="411.50" x2="71.70" y2="411.50" stroke="#00ff00" stroke-width="0.75" />
<line x1="83.50" y1="390.50" x2="83.50" y2="383.50" stroke="#00ff00" stroke-width="0.7" />
<line x1="81.30" y1="390.50" x2="85.70" y2="390.50" stroke="#00ff00" stroke-width="0.75" />
<line x1="81.30" y1="383.50" x2="85.70" y2="383.50" stroke="#00ff00" stroke-width="0.75" />
<line x1="112.50" y1="366.50" x2="112.50" y2="357.50" stroke="#00ff00" stroke-width="0.7" />
<line x1="110.30" y1="366.50" x2="114.70" y2="366.50" stroke="#00ff00" stroke-width="0.75" />
<line x1="110.30" y1="357.50" x2="114.70" y2="357.50" stroke="#00ff00" stroke-width="0.75" />
<line x1="170.50" y1="350.50" x2="170.50" y2="336.50" stroke="#00ff00" stroke-width="0.7" />
<line x1="168.30" y1="350.50" x2="172.70" y2="350.50" stroke="#00ff00" stroke-width="0.75" />
<line x1="168.30" y1="336.50" x2="172.70" y2="336.50" stroke="#00ff00" stroke-width="0.75" />
<line x1="287.50" y1="315.50" x2="287.50" y2="297.50" stroke="#00ff00" stroke-width="0.7" />
<line x1="285.30" y1="315.50" x2="289.70" y2="315.50" stroke="#00ff00" stroke-width="0.75" />
<line x1="285.30" y1="297.50" x2="289.70" y2="297.50" stroke="#00ff00" stroke-width="0.75" />
<polygon points="54.70,478.69 51.70,483.80 57.70,483.80" fill="#00ff00"/>
<polygon points="69.22,410.71 66.22,415.81 72.22,415.81" fill="#00ff00"/>
<polygon points="83.75,383.94 80.75,389.04 86.75,389.04" fill="#00ff00"/>
<polygon points="112.80,359.21 109.80,364.31 115.80,364.31" fill="#00ff00"/>
<polygon points="170.90,340.68 167.90,345.78 173.90,345.78" fill="#00ff00"/>
<polygon points="287.10,303.59 284.10,308.69 290.10,308.69" fill="#00ff00"/>
</g>
<line x1="54.70" y1="481.50" x2="316.15" y2="481.50" stroke="#505050" stroke-width="1.25" />
<line x1="54.70" y1="481.50" x2="54.70" y2="296.10" stroke="#1e1e1e" stroke-width="1.3" />
<line x1="50.70" y1="481.50" x2="54.70" y2="481.50" stroke="#1a1a1a" stroke-width="1.0" />
<text transform="translate(48.30,483.10) scale(0.8,1)" font-family="Liberation Sans" font-size="7.8" font-weight="normal" text-anchor="end" fill="#2e2e2e" letter-spacing="1.9" stroke="#2e2e2e" stroke-width="0.15" >0</text>
<line x1="52.70" y1="471.20" x2="54.70" y2="471.20" stroke="#1a1a1a" stroke-width="1.0" />
<line x1="50.70" y1="460.90" x2="54.70" y2="460.90" stroke="#1a1a1a" stroke-width="1.0" />
<text transform="translate(48.30,462.50) scale(0.8,1)" font-family="Liberation Sans" font-size="7.8" font-weight="normal" text-anchor="end" fill="#2e2e2e" letter-spacing="1.9" stroke="#2e2e2e" stroke-width="0.15" >10</text>
<line x1="52.70" y1="450.60" x2="54.70" y2="450.60" stroke="#1a1a1a" stroke-width="1.0" />
<line x1="50.70" y1="440.30" x2="54.70" y2="440.30" stroke="#1a1a1a" stroke-width="1.0" />
<text transform="translate(48.30,441.90) scale(0.8,1)" font-family="Liberation Sans" font-size="7.8" font-weight="normal" text-anchor="end" fill="#2e2e2e" letter-spacing="1.9" stroke="#2e2e2e" stroke-width="0.15" >20</text>
<line x1="52.70" y1="430.00" x2="54.70" y2="430.00" stroke="#1a1a1a" stroke-width="1.0" />
<line x1="50.70" y1="419.70" x2="54.70" y2="419.70" stroke="#1a1a1a" stroke-width="1.0" />
<text transform="translate(48.30,421.30) scale(0.8,1)" font-family="Liberation Sans" font-size="7.8" font-weight="normal" text-anchor="end" fill="#2e2e2e" letter-spacing="1.9" stroke="#2e2e2e" stroke-width="0.15" >30</text>
<line x1="52.70" y1="409.40" x2="54.70" y2="409.40" stroke="#1a1a1a" stroke-width="1.0" />
<line x1="50.70" y1="399.10" x2="54.70" y2="399.10" stroke="#1a1a1a" stroke-width="1.0" />
<text transform="translate(48.30,400.70) scale(0.8,1)" font-family="Liberation Sans" font-size="7.8" font-weight="normal" text-anchor="end" fill="#2e2e2e" letter-spacing="1.9" stroke="#2e2e2e" stroke-width="0.15" >40</text>
<line x1="52.70" y1="388.80" x2="54.70" y2="388.80" stroke="#1a1a1a" stroke-width="1.0" />
<line x1="50.70" y1="378.50" x2="54.70" y2="378.50" stroke="#1a1a1a" stroke-width="1.0" />
<text transform="translate(48.30,380.10) scale(0.8,1)" font-family="Liberation Sans" font-size="7.8" font-weight="normal" text-anchor="end" fill="#2e2e2e" letter-spacing="1.9" stroke="#2e2e2e" stroke-width="0.15" >50</text>
<line x1="52.70" y1="368.20" x2="54.70" y2="368.20" stroke="#1a1a1a" stroke-width="1.0" />
<line x1="50.70" y1="357.90" x2="54.70" y2="357.90" stroke="#1a1a1a" stroke-width="1.0" />
<text transform="translate(48.30,359.50) scale(0.8,1)" font-family="Liberation Sans" font-size="7.8" font-weight="normal" text-anchor="end" fill="#2e2e2e" letter-spacing="1.9" stroke="#2e2e2e" stroke-width="0.15" >60</text>
<line x1="52.70" y1="347.60" x2="54.70" y2="347.60" stroke="#1a1a1a" stroke-width="1.0" />
<line x1="50.70" y1="337.30" x2="54.70" y2="337.30" stroke="#1a1a1a" stroke-width="1.0" />
<text transform="translate(48.30,338.90) scale(0.8,1)" font-family="Liberation Sans" font-size="7.8" font-weight="normal" text-anchor="end" fill="#2e2e2e" letter-spacing="1.9" stroke="#2e2e2e" stroke-width="0.15" >70</text>
<line x1="52.70" y1="327.00" x2="54.70" y2="327.00" stroke="#1a1a1a" stroke-width="1.0" />
<line x1="50.70" y1="316.70" x2="54.70" y2="316.70" stroke="#1a1a1a" stroke-width="1.0" />
<text transform="translate(48.30,318.30) scale(0.8,1)" font-family="Liberation Sans" font-size="7.8" font-weight="normal" text-anchor="end" fill="#2e2e2e" letter-spacing="1.9" stroke="#2e2e2e" stroke-width="0.15" >80</text>
<line x1="52.70" y1="306.40" x2="54.70" y2="306.40" stroke="#1a1a1a" stroke-width="1.0" />
<line x1="50.70" y1="296.10" x2="54.70" y2="296.10" stroke="#1a1a1a" stroke-width="1.0" />
<text transform="translate(48.30,297.70) scale(0.8,1)" font-family="Liberation Sans" font-size="7.8" font-weight="normal" text-anchor="end" fill="#2e2e2e" letter-spacing="1.9" stroke="#2e2e2e" stroke-width="0.15" >90</text>
<line x1="54.70" y1="481.50" x2="54.70" y2="485.50" stroke="#1a1a1a" stroke-width="1.0" />
<text transform="translate(55.00,493.20) scale(0.8,1)" font-family="Liberation Sans" font-size="7.2" font-weight="normal" text-anchor="middle" fill="#2e2e2e" letter-spacing="1.9" stroke="#2e2e2e" stroke-width="0.15" >0</text>
<line x1="83.75" y1="481.50" x2="83.75" y2="483.50" stroke="#1a1a1a" stroke-width="1.0" />
<line x1="112.80" y1="481.50" x2="112.80" y2="485.50" stroke="#1a1a1a" stroke-width="1.0" />
<text transform="translate(113.10,493.20) scale(0.8,1)" font-family="Liberation Sans" font-size="7.2" font-weight="normal" text-anchor="middle" fill="#2e2e2e" letter-spacing="1.9" stroke="#2e2e2e" stroke-width="0.15" >5</text>
<line x1="141.85" y1="481.50" x2="141.85" y2="483.50" stroke="#1a1a1a" stroke-width="1.0" />
<line x1="170.90" y1="481.50" x2="170.90" y2="485.50" stroke="#1a1a1a" stroke-width="1.0" />
<text transform="translate(171.20,493.20) scale(0.8,1)" font-family="Liberation Sans" font-size="7.2" font-weight="normal" text-anchor="middle" fill="#2e2e2e" letter-spacing="1.9" stroke="#2e2e2e" stroke-width="0.15" >10</text>
<line x1="199.95" y1="481.50" x2="199.95" y2="483.50" stroke="#1a1a1a" stroke-width="1.0" />
<line x1="229.00" y1="481.50" x2="229.00" y2="485.50" stroke="#1a1a1a" stroke-width="1.0" />
<text transform="translate(229.30,493.20) scale(0.8,1)" font-family="Liberation Sans" font-size="7.2" font-weight="normal" text-anchor="middle" fill="#2e2e2e" letter-spacing="1.9" stroke="#2e2e2e" stroke-width="0.15" >15</text>
<line x1="258.05" y1="481.50" x2="258.05" y2="483.50" stroke="#1a1a1a" stroke-width="1.0" />
<line x1="287.10" y1="481.50" x2="287.10" y2="485.50" stroke="#1a1a1a" stroke-width="1.0" />
<text transform="translate(287.40,493.20) scale(0.8,1)" font-family="Liberation Sans" font-size="7.2" font-weight="normal" text-anchor="middle" fill="#2e2e2e" letter-spacing="1.9" stroke="#2e2e2e" stroke-width="0.15" >20</text>
<line x1="316.15" y1="481.50" x2="316.15" y2="483.50" stroke="#1a1a1a" stroke-width="1.0" />
<clipPath id="cd"><rect x="400.70" y="280.70" width="280" height="200"/></clipPath>
<g clip-path="url(#cd)">
<polyline points="400.70,480.70 415.18,442.95 429.66,397.65 458.62,382.55 516.55,405.20 632.40,435.40" fill="none" stroke="#333" stroke-width="0.8"/>
<polyline points="400.70,480.70 415.18,435.40 429.66,420.30 458.62,412.75 516.55,442.95 632.40,435.40" fill="none" stroke="#ff0000" stroke-width="0.8"/>
<polyline points="400.70,480.70 415.18,370.47 429.66,344.04 458.62,405.20 516.55,416.52 632.40,450.50" fill="none" stroke="#00ff00" stroke-width="0.8"/>
<rect x="398.80" y="478.80" width="3.8" height="3.8" fill="#fff" stroke="#fff" stroke-width="2.0"/>
<rect x="413.28" y="441.05" width="3.8" height="3.8" fill="#fff" stroke="#fff" stroke-width="2.0"/>
<rect x="427.76" y="395.75" width="3.8" height="3.8" fill="#fff" stroke="#fff" stroke-width="2.0"/>
<rect x="456.73" y="380.65" width="3.8" height="3.8" fill="#fff" stroke="#fff" stroke-width="2.0"/>
<rect x="514.65" y="403.30" width="3.8" height="3.8" fill="#fff" stroke="#fff" stroke-width="2.0"/>
<rect x="630.50" y="433.50" width="3.8" height="3.8" fill="#fff" stroke="#fff" stroke-width="2.0"/>
<ellipse cx="400.70" cy="480.70" rx="2.15" ry="2.15" fill="#fff" stroke="#fff" stroke-width="2.0"/>
<ellipse cx="415.18" cy="435.40" rx="2.15" ry="2.15" fill="#fff" stroke="#fff" stroke-width="2.0"/>
<ellipse cx="429.66" cy="420.30" rx="2.15" ry="2.15" fill="#fff" stroke="#fff" stroke-width="2.0"/>
<ellipse cx="458.62" cy="412.75" rx="2.15" ry="2.15" fill="#fff" stroke="#fff" stroke-width="2.0"/>
<ellipse cx="516.55" cy="442.95" rx="2.15" ry="2.15" fill="#fff" stroke="#fff" stroke-width="2.0"/>
<ellipse cx="632.40" cy="435.40" rx="2.15" ry="2.15" fill="#fff" stroke="#fff" stroke-width="2.0"/>
<polygon points="400.70,477.99 397.80,482.92 403.60,482.92" fill="#fff" stroke="#fff" stroke-width="2.0"/>
<polygon points="415.18,367.76 412.28,372.69 418.08,372.69" fill="#fff" stroke="#fff" stroke-width="2.0"/>
<polygon points="429.66,341.33 426.76,346.26 432.56,346.26" fill="#fff" stroke="#fff" stroke-width="2.0"/>
<polygon points="458.62,402.49 455.73,407.42 461.52,407.42" fill="#fff" stroke="#fff" stroke-width="2.0"/>
<polygon points="516.55,413.81 513.65,418.74 519.45,418.74" fill="#fff" stroke="#fff" stroke-width="2.0"/>
<polygon points="632.40,447.79 629.50,452.72 635.30,452.72" fill="#fff" stroke="#fff" stroke-width="2.0"/>
<rect x="398.80" y="478.80" width="3.8" height="3.8" fill="#000000"/>
<rect x="413.28" y="441.05" width="3.8" height="3.8" fill="#000000"/>
<rect x="427.76" y="395.75" width="3.8" height="3.8" fill="#000000"/>
<rect x="456.73" y="380.65" width="3.8" height="3.8" fill="#000000"/>
<rect x="514.65" y="403.30" width="3.8" height="3.8" fill="#000000"/>
<rect x="630.50" y="433.50" width="3.8" height="3.8" fill="#000000"/>
<ellipse cx="400.70" cy="480.70" rx="2.15" ry="2.15" fill="#ff0000"/>
<ellipse cx="415.18" cy="435.40" rx="2.15" ry="2.15" fill="#ff0000"/>
<ellipse cx="429.66" cy="420.30" rx="2.15" ry="2.15" fill="#ff0000"/>
<ellipse cx="458.62" cy="412.75" rx="2.15" ry="2.15" fill="#ff0000"/>
<ellipse cx="516.55" cy="442.95" rx="2.15" ry="2.15" fill="#ff0000"/>
<ellipse cx="632.40" cy="435.40" rx="2.15" ry="2.15" fill="#ff0000"/>
<polygon points="400.70,477.99 397.80,482.92 403.60,482.92" fill="#00ff00"/>
<polygon points="415.18,367.76 412.28,372.69 418.08,372.69" fill="#00ff00"/>
<polygon points="429.66,341.33 426.76,346.26 432.56,346.26" fill="#00ff00"/>
<polygon points="458.62,402.49 455.73,407.42 461.52,407.42" fill="#00ff00"/>
<polygon points="516.55,413.81 513.65,418.74 519.45,418.74" fill="#00ff00"/>
<polygon points="632.40,447.79 629.50,452.72 635.30,452.72" fill="#00ff00"/>
</g>
<line x1="400.70" y1="481.05" x2="661.36" y2="481.05" stroke="#a0a0a0" stroke-width="1.7" />
<line x1="400.70" y1="480.70" x2="400.70" y2="291.95" stroke="#1e1e1e" stroke-width="1.3" />
<line x1="396.70" y1="480.70" x2="400.70" y2="480.70" stroke="#1a1a1a" stroke-width="1.0" />
<text transform="translate(393.70,482.50) scale(0.85,1)" font-family="Liberation Sans" font-size="7.8" font-weight="normal" text-anchor="end" fill="#262626" letter-spacing="1.2" stroke="#262626" stroke-width="0.15" >0</text>
<line x1="398.70" y1="473.15" x2="400.70" y2="473.15" stroke="#1a1a1a" stroke-width="1.0" />
<line x1="396.70" y1="465.60" x2="400.70" y2="465.60" stroke="#1a1a1a" stroke-width="1.0" />
<text transform="translate(393.70,467.40) scale(0.85,1)" font-family="Liberation Sans" font-size="7.8" font-weight="normal" text-anchor="end" fill="#262626" letter-spacing="1.2" stroke="#262626" stroke-width="0.15" >2</text>
<line x1="398.70" y1="458.05" x2="400.70" y2="458.05" stroke="#1a1a1a" stroke-width="1.0" />
<line x1="396.70" y1="450.50" x2="400.70" y2="450.50" stroke="#1a1a1a" stroke-width="1.0" />
<text transform="translate(393.70,452.30) scale(0.85,1)" font-family="Liberation Sans" font-size="7.8" font-weight="normal" text-anchor="end" fill="#262626" letter-spacing="1.2" stroke="#262626" stroke-width="0.15" >4</text>
<line x1="398.70" y1="442.95" x2="400.70" y2="442.95" stroke="#1a1a1a" stroke-width="1.0" />
<line x1="396.70" y1="435.40" x2="400.70" y2="435.40" stroke="#1a1a1a" stroke-width="1.0" />
<text transform="translate(393.70,437.20) scale(0.85,1)" font-family="Liberation Sans" font-size="7.8" font-weight="normal" text-anchor="end" fill="#262626" letter-spacing="1.2" stroke="#262626" stroke-width="0.15" >6</text>
<line x1="398.70" y1="427.85" x2="400.70" y2="427.85" stroke="#1a1a1a" stroke-width="1.0" />
<line x1="396.70" y1="420.30" x2="400.70" y2="420.30" stroke="#1a1a1a" stroke-width="1.0" />
<text transform="translate(393.70,422.10) scale(0.85,1)" font-family="Liberation Sans" font-size="7.8" font-weight="normal" text-anchor="end" fill="#262626" letter-spacing="1.2" stroke="#262626" stroke-width="0.15" >8</text>
<line x1="398.70" y1="412.75" x2="400.70" y2="412.75" stroke="#1a1a1a" stroke-width="1.0" />
<line x1="396.70" y1="405.20" x2="400.70" y2="405.20" stroke="#1a1a1a" stroke-width="1.0" />
<text transform="translate(393.70,407.00) scale(0.85,1)" font-family="Liberation Sans" font-size="7.8" font-weight="normal" text-anchor="end" fill="#262626" letter-spacing="1.2" stroke="#262626" stroke-width="0.15" >10</text>
<line x1="398.70" y1="397.65" x2="400.70" y2="397.65" stroke="#1a1a1a" stroke-width="1.0" />
<line x1="396.70" y1="390.10" x2="400.70" y2="390.10" stroke="#1a1a1a" stroke-width="1.0" />
<text transform="translate(393.70,391.90) scale(0.85,1)" font-family="Liberation Sans" font-size="7.8" font-weight="normal" text-anchor="end" fill="#262626" letter-spacing="1.2" stroke="#262626" stroke-width="0.15" >12</text>
<line x1="398.70" y1="382.55" x2="400.70" y2="382.55" stroke="#1a1a1a" stroke-width="1.0" />
<line x1="396.70" y1="375.00" x2="400.70" y2="375.00" stroke="#1a1a1a" stroke-width="1.0" />
<text transform="translate(393.70,376.80) scale(0.85,1)" font-family="Liberation Sans" font-size="7.8" font-weight="normal" text-anchor="end" fill="#262626" letter-spacing="1.2" stroke="#262626" stroke-width="0.15" >14</text>
<line x1="398.70" y1="367.45" x2="400.70" y2="367.45" stroke="#1a1a1a" stroke-width="1.0" />
<line x1="396.70" y1="359.90" x2="400.70" y2="359.90" stroke="#1a1a1a" stroke-width="1.0" />
<text transform="translate(393.70,361.70) scale(0.85,1)" font-family="Liberation Sans" font-size="7.8" font-weight="normal" text-anchor="end" fill="#262626" letter-spacing="1.2" stroke="#262626" stroke-width="0.15" >16</text>
<line x1="398.70" y1="352.35" x2="400.70" y2="352.35" stroke="#1a1a1a" stroke-width="1.0" />
<line x1="396.70" y1="344.80" x2="400.70" y2="344.80" stroke="#1a1a1a" stroke-width="1.0" />
<text transform="translate(393.70,346.60) scale(0.85,1)" font-family="Liberation Sans" font-size="7.8" font-weight="normal" text-anchor="end" fill="#262626" letter-spacing="1.2" stroke="#262626" stroke-width="0.15" >18</text>
<line x1="398.70" y1="337.25" x2="400.70" y2="337.25" stroke="#1a1a1a" stroke-width="1.0" />
<line x1="396.70" y1="329.70" x2="400.70" y2="329.70" stroke="#1a1a1a" stroke-width="1.0" />
<text transform="translate(393.70,331.50) scale(0.85,1)" font-family="Liberation Sans" font-size="7.8" font-weight="normal" text-anchor="end" fill="#262626" letter-spacing="1.2" stroke="#262626" stroke-width="0.15" >20</text>
<line x1="398.70" y1="322.15" x2="400.70" y2="322.15" stroke="#1a1a1a" stroke-width="1.0" />
<line x1="396.70" y1="314.60" x2="400.70" y2="314.60" stroke="#1a1a1a" stroke-width="1.0" />
<text transform="translate(393.70,316.40) scale(0.85,1)" font-family="Liberation Sans" font-size="7.8" font-weight="normal" text-anchor="end" fill="#262626" letter-spacing="1.2" stroke="#262626" stroke-width="0.15" >22</text>
<line x1="398.70" y1="307.05" x2="400.70" y2="307.05" stroke="#1a1a1a" stroke-width="1.0" />
<line x1="396.70" y1="299.50" x2="400.70" y2="299.50" stroke="#1a1a1a" stroke-width="1.0" />
<text transform="translate(393.70,301.30) scale(0.85,1)" font-family="Liberation Sans" font-size="7.8" font-weight="normal" text-anchor="end" fill="#262626" letter-spacing="1.2" stroke="#262626" stroke-width="0.15" >24</text>
<line x1="398.70" y1="291.95" x2="400.70" y2="291.95" stroke="#1a1a1a" stroke-width="1.0" />
<line x1="400.70" y1="480.70" x2="400.70" y2="484.70" stroke="#1a1a1a" stroke-width="1.0" />
<text transform="translate(401.00,492.90) scale(0.85,1)" font-family="Liberation Sans" font-size="7.2" font-weight="normal" text-anchor="middle" fill="#262626" letter-spacing="1.2" stroke="#262626" stroke-width="0.15" >0</text>
<line x1="429.66" y1="480.70" x2="429.66" y2="482.70" stroke="#1a1a1a" stroke-width="1.0" />
<line x1="458.62" y1="480.70" x2="458.62" y2="484.70" stroke="#1a1a1a" stroke-width="1.0" />
<text transform="translate(458.93,492.90) scale(0.85,1)" font-family="Liberation Sans" font-size="7.2" font-weight="normal" text-anchor="middle" fill="#262626" letter-spacing="1.2" stroke="#262626" stroke-width="0.15" >5</text>
<line x1="487.59" y1="480.70" x2="487.59" y2="482.70" stroke="#1a1a1a" stroke-width="1.0" />
<line x1="516.55" y1="480.70" x2="516.55" y2="484.70" stroke="#1a1a1a" stroke-width="1.0" />
<text transform="translate(516.85,492.90) scale(0.85,1)" font-family="Liberation Sans" font-size="7.2" font-weight="normal" text-anchor="middle" fill="#262626" letter-spacing="1.2" stroke="#262626" stroke-width="0.15" >10</text>
<line x1="545.51" y1="480.70" x2="545.51" y2="482.70" stroke="#1a1a1a" stroke-width="1.0" />
<line x1="574.48" y1="480.70" x2="574.48" y2="484.70" stroke="#1a1a1a" stroke-width="1.0" />
<text transform="translate(574.77,492.90) scale(0.85,1)" font-family="Liberation Sans" font-size="7.2" font-weight="normal" text-anchor="middle" fill="#262626" letter-spacing="1.2" stroke="#262626" stroke-width="0.15" >15</text>
<line x1="603.44" y1="480.70" x2="603.44" y2="482.70" stroke="#1a1a1a" stroke-width="1.0" />
<line x1="632.40" y1="480.70" x2="632.40" y2="484.70" stroke="#1a1a1a" stroke-width="1.0" />
<text transform="translate(632.70,492.90) scale(0.85,1)" font-family="Liberation Sans" font-size="7.2" font-weight="normal" text-anchor="middle" fill="#262626" letter-spacing="1.2" stroke="#262626" stroke-width="0.15" >20</text>
<line x1="661.36" y1="480.70" x2="661.36" y2="482.70" stroke="#1a1a1a" stroke-width="1.0" />
<text transform="translate(135.60,236.80) scale(0.88,1)" font-family="Liberation Sans" font-size="9.4" font-weight="normal" text-anchor="start" fill="#2e2e2e" letter-spacing="1.32" >Concentration(µg/ml)</text>
<text transform="translate(483.50,237.30) scale(0.88,1)" font-family="Liberation Sans" font-size="9.4" font-weight="normal" text-anchor="start" fill="#2e2e2e" letter-spacing="1.3" >Concentration(µg/ml)</text>
<text transform="translate(136.20,508.00) scale(0.95,1)" font-family="Liberation Sans" font-size="9.4" font-weight="normal" text-anchor="start" fill="#222" letter-spacing="0.62" stroke="#222" stroke-width="0.1" >Concentration (µg/ml)</text>
<text transform="translate(483.80,507.90) scale(0.9,1)" font-family="Liberation Serif" font-size="9.5" font-weight="bold" text-anchor="start" fill="#111" letter-spacing="0.78" >Concentration (µg/ml)</text>
<text transform="translate(32.00,172.60) rotate(-90) scale(0.945,1)" font-family="Liberation Sans" font-size="9.9" font-weight="normal" text-anchor="start" fill="#1a1a1a" letter-spacing="0" stroke="#1a1a1a" stroke-width="0.2" >Percentage Inhibition(%)</text>
<text transform="translate(378.00,173.90) rotate(-90) scale(0.93,1)" font-family="Liberation Sans" font-size="9.9" font-weight="normal" text-anchor="start" fill="#1a1a1a" letter-spacing="0" stroke="#1a1a1a" stroke-width="0.2" >Percentage Inhibition(%)</text>
<text transform="translate(32.00,444.30) rotate(-90) scale(0.82,1)" font-family="Liberation Sans" font-size="9.9" font-weight="normal" text-anchor="start" fill="#3a3a3a" letter-spacing="0.55" stroke="#3a3a3a" stroke-width="0.05" >Percentage Inhibition(%)</text>
<text transform="translate(376.90,438.60) rotate(-90) scale(0.9,1)" font-family="Liberation Serif" font-size="9.1" font-weight="bold" text-anchor="start" fill="#111" letter-spacing="0.62" >Change in %  inhibition</text>
<text transform="translate(313.40,25.10)" font-family="Liberation Serif" font-size="19.7" font-weight="normal" text-anchor="start" fill="#000" letter-spacing="0" >A</text>
<text transform="translate(663.60,21.20)" font-family="Liberation Serif" font-size="20.3" font-weight="normal" text-anchor="start" fill="#000" letter-spacing="0" >B</text>
<text transform="translate(318.00,296.20)" font-family="Liberation Serif" font-size="20.2" font-weight="normal" text-anchor="start" fill="#000" letter-spacing="0" >C</text>
<text transform="translate(658.50,297.60)" font-family="Liberation Serif" font-size="20.5" font-weight="normal" text-anchor="start" fill="#000" letter-spacing="0" >D</text>
<text transform="translate(253.90,29.70) scale(0.88,1)" font-family="Liberation Sans" font-size="7.4" font-weight="bold" text-anchor="start" fill="#1a1a1a" letter-spacing="1.1" stroke="#1a1a1a" stroke-width="0.25" >Saos-2</text>
<text transform="translate(592.80,34.60) scale(0.88,1)" font-family="Liberation Sans" font-size="7.0" font-weight="bold" text-anchor="start" fill="#1a1a1a" letter-spacing="1.0" stroke="#1a1a1a" stroke-width="0.25" >A549</text>
<text transform="translate(244.90,304.10) scale(0.88,1)" font-family="Liberation Sans" font-size="7.0" font-weight="bold" text-anchor="start" fill="#1a1a1a" letter-spacing="1.25" stroke="#1a1a1a" stroke-width="0.25" >MG-63</text>
<rect x="70.5" y="20.5" width="128.50" height="26.60" fill="#fff" stroke="#505050" stroke-width="1"/>
<line x1="79.00" y1="25.50" x2="96.60" y2="25.50" stroke="#333" stroke-width="1.0" />
<rect x="86.20" y="23.70" width="3.6" height="3.6" fill="#000000"/>
<text transform="translate(98.30,27.90) scale(0.88,1)" font-family="Liberation Sans" font-size="5.5" font-weight="bold" text-anchor="start" fill="#303038" letter-spacing="0.98" >Pure Cisplatin  IC<tspan font-size="3.6" dy="2.2">50</tspan><tspan dy="-2.2">- 8.25µg/ml</tspan></text>
<line x1="79.00" y1="33.50" x2="96.60" y2="33.50" stroke="#ff0000" stroke-width="1.0" />
<ellipse cx="88.00" cy="33.50" rx="1.90" ry="1.90" fill="#ff0000"/>
<text transform="translate(97.00,35.90) scale(0.88,1)" font-family="Liberation Sans" font-size="5.5" font-weight="bold" text-anchor="start" fill="#303038" letter-spacing="0.98" >B-GNPs IC<tspan font-size="3.6" dy="2.2">50</tspan><tspan dy="-2.2">- 17.3µg/ml</tspan></text>
<line x1="79.00" y1="41.20" x2="96.60" y2="41.20" stroke="#00ff00" stroke-width="1.0" />
<polygon points="88.00,38.43 85.50,42.63 90.50,42.63" fill="#00ff00"/>
<text transform="translate(98.30,43.60) scale(0.88,1)" font-family="Liberation Sans" font-size="5.5" font-weight="bold" text-anchor="start" fill="#303038" letter-spacing="0.98" >B-C-GNPs IC<tspan font-size="3.6" dy="2.2">50</tspan><tspan dy="-2.2">- 4.51µg/ml</tspan></text>
<rect x="407.6" y="25.6" width="127.90" height="25.90" fill="#fff" stroke="#505050" stroke-width="1"/>
<line x1="416.80" y1="30.60" x2="433.60" y2="30.60" stroke="#333" stroke-width="1.0" />
<rect x="423.50" y="28.80" width="3.6" height="3.6" fill="#000000"/>
<text transform="translate(435.50,33.00) scale(0.88,1)" font-family="Liberation Sans" font-size="5.5" font-weight="bold" text-anchor="start" fill="#303038" letter-spacing="0.9" >Pure cisplatin IC<tspan font-size="3.6" dy="2.2">50</tspan><tspan dy="-2.2">- 6.36µg/ml)</tspan></text>
<line x1="416.80" y1="38.50" x2="433.60" y2="38.50" stroke="#ff0000" stroke-width="1.0" />
<ellipse cx="425.30" cy="38.50" rx="1.90" ry="1.90" fill="#ff0000"/>
<text transform="translate(435.50,40.90) scale(0.88,1)" font-family="Liberation Sans" font-size="5.5" font-weight="bold" text-anchor="start" fill="#303038" letter-spacing="0.9" >B-C-GNPs IC<tspan font-size="3.6" dy="2.2">50</tspan><tspan dy="-2.2">-2.5µg/ml</tspan></text>
<line x1="416.80" y1="46.30" x2="433.60" y2="46.30" stroke="#00ff00" stroke-width="1.0" />
<polygon points="425.30,43.53 422.80,47.73 427.80,47.73" fill="#00ff00"/>
<text transform="translate(435.50,48.70) scale(0.88,1)" font-family="Liberation Sans" font-size="5.5" font-weight="bold" text-anchor="start" fill="#303038" letter-spacing="0.9" >B-GNPs IC<tspan font-size="3.6" dy="2.2">50</tspan><tspan dy="-2.2">-18.5µg/ml</tspan></text>
<rect x="61.0" y="295.3" width="125.70" height="25.10" fill="#fff" stroke="#505050" stroke-width="1"/>
<line x1="70.10" y1="300.30" x2="86.50" y2="300.30" stroke="#333" stroke-width="1.0" />
<rect x="76.40" y="298.50" width="3.6" height="3.6" fill="#000000"/>
<text transform="translate(88.00,302.30) scale(0.88,1)" font-family="Liberation Sans" font-size="5.5" font-weight="bold" text-anchor="start" fill="#303038" letter-spacing="0.76" >Pure Cisplatin IC<tspan font-size="3.6" dy="2.2">50</tspan><tspan dy="-2.2">- 5.42µg/ml</tspan></text>
<line x1="70.10" y1="307.80" x2="86.50" y2="307.80" stroke="#ff0000" stroke-width="1.0" />
<ellipse cx="78.20" cy="307.80" rx="1.90" ry="1.90" fill="#ff0000"/>
<text transform="translate(86.70,309.80) scale(0.88,1)" font-family="Liberation Sans" font-size="5.5" font-weight="bold" text-anchor="start" fill="#303038" letter-spacing="0.76" >B-GNPs IC<tspan font-size="3.6" dy="2.2">50</tspan><tspan dy="-2.2">- 15.67µg/ml</tspan></text>
<line x1="70.10" y1="315.50" x2="86.50" y2="315.50" stroke="#00ff00" stroke-width="1.0" />
<polygon points="78.20,312.73 75.70,316.93 80.70,316.93" fill="#00ff00"/>
<text transform="translate(88.00,317.50) scale(0.88,1)" font-family="Liberation Sans" font-size="5.5" font-weight="bold" text-anchor="start" fill="#303038" letter-spacing="0.76" >B-C-GNPs IC<tspan font-size="3.6" dy="2.2">50</tspan><tspan dy="-2.2">- 3.29µg/ml</tspan></text>
<line x1="406.20" y1="299.30" x2="432.00" y2="299.30" stroke="#333" stroke-width="1.0" />
<rect x="416.95" y="296.95" width="4.7" height="4.7" fill="#000000"/>
<text transform="translate(435.70,301.70) scale(0.86,1)" font-family="Liberation Sans" font-size="8.6" font-weight="bold" text-anchor="start" fill="#1a1a1a" letter-spacing="1.45" stroke="#1a1a1a" stroke-width="0.3" >Saos-2</text>
<line x1="406.20" y1="311.00" x2="432.00" y2="311.00" stroke="#ff0000" stroke-width="1.0" />
<ellipse cx="419.30" cy="311.00" rx="2.60" ry="2.60" fill="#ff0000"/>
<text transform="translate(435.70,313.40) scale(0.86,1)" font-family="Liberation Sans" font-size="8.6" font-weight="bold" text-anchor="start" fill="#1a1a1a" letter-spacing="1.45" stroke="#1a1a1a" stroke-width="0.3" >MG-63</text>
<line x1="406.20" y1="322.30" x2="432.00" y2="322.30" stroke="#00ff00" stroke-width="1.0" />
<polygon points="419.30,318.53 415.90,324.24 422.70,324.24" fill="#00ff00"/>
<text transform="translate(435.70,324.70) scale(0.86,1)" font-family="Liberation Sans" font-size="8.6" font-weight="bold" text-anchor="start" fill="#1a1a1a" letter-spacing="1.45" stroke="#1a1a1a" stroke-width="0.3" >A549</text>
</svg>
</body></html>
